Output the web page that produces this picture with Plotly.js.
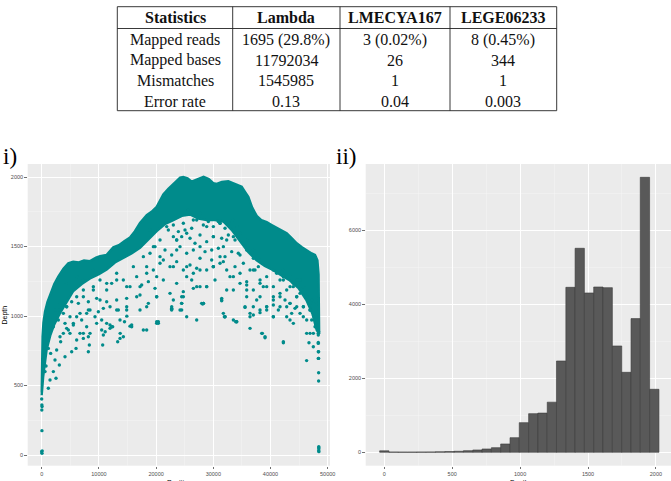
<!DOCTYPE html>
<html>
<head>
<meta charset="utf-8">
<script src="https://cdn.plot.ly/plotly-3.0.1.min.js"></script>
<style>
  html, body { margin: 0; padding: 0; background: #ffffff; }
  #chart { width: 671px; height: 481px; }
</style>
</head>
<body>
<div id="chart"></div>
<script>
// ---- Mapping statistics table ----
const tableHeader = ['Statistics', 'Lambda', 'LMECYA167', 'LEGE06233'];
const rowLabels   = ['Mapped reads', 'Mapped bases', 'Mismatches', 'Error rate'];
const lambdaCol   = ['1695 (29.8%)', '11792034', '1545985', '0.13'];
const lmecyaCol   = ['3 (0.02%)', '26', '1', '0.04'];
const legeCol     = ['8 (0.45%)', '344', '1', '0.003'];

// ---- i) per-position depth along the lambda genome ----
// Upper edge of the overplotted coverage band (position, depth)
const bandTopPos = [0, 50, 150, 300, 577, 1000, 1573, 2200, 2902, 3800, 4650, 5500, 6500, 7400, 8444, 9500, 10200, 11364, 12517, 13500, 14500, 15437, 16300, 17185, 18357, 19200, 20105, 20700, 21259, 22136, 23500, 24200, 24755, 25500, 26224, 27300, 28300, 29200, 30000, 30600, 31500, 32623, 33900, 34965, 35600, 36119, 36800, 37587, 38400, 39335, 40200, 41084, 42000, 42832, 43700, 44580, 45500, 46329, 47200, 47780, 48200, 48400, 48480, 48502];
const bandTopDepth = [450, 700, 850, 950, 1030, 1100, 1163, 1230, 1283, 1340, 1379, 1390, 1385, 1400, 1395, 1420, 1430, 1440, 1494, 1510, 1540, 1565, 1610, 1670, 1725, 1750, 1785, 1830, 1875, 1915, 1965, 1995, 2000, 1990, 1966, 1985, 2002, 1985, 1955, 1950, 1965, 1970, 1950, 1930, 1890, 1858, 1780, 1720, 1690, 1675, 1655, 1635, 1615, 1595, 1560, 1523, 1495, 1470, 1450, 1440, 1400, 1300, 1100, 920];
// Lower edge of the solid part of the band
const bandLowPos = [0, 100, 250, 500, 868, 1500, 2200, 3200, 4300, 5530, 7000, 8445, 10000, 11360, 12800, 14274, 15700, 17188, 18600, 20100, 21500, 23010, 24500, 25924, 27400, 28838, 30300, 31752, 33200, 34666, 36100, 37580, 39000, 40495, 42000, 43409, 44900, 46323, 47300, 48071, 48400, 48502];
const bandLowDepth = [430, 480, 560, 660, 760, 860, 940, 1020, 1100, 1180, 1230, 1270, 1300, 1335, 1385, 1420, 1450, 1490, 1550, 1610, 1660, 1690, 1720, 1730, 1700, 1690, 1690, 1680, 1620, 1540, 1460, 1400, 1360, 1330, 1290, 1255, 1200, 1110, 1020, 900, 880, 880];

// Sparse positions lying well below the band
const outPos = [0, 30, 60, 20, 40, 0, 50, 80, 48440, 48450, 48430, 48460, 48445,
  48415, 48415, 46317, 48415, 48415, 48357, 46725, 48357, 48415, 42249, 39044, 38578, 36422, 33916, 31935,
  1160, 1451, 2500, 2040, 583, 758, 3083, 4074, 2326, 1568, 1160, 2617, 5240, 5997, 8154, 10660, 8329, 13283, 13691, 15439, 15730, 20101, 20393, 18353, 6114, 3316, 3783, 4366, 5531, 4948, 7279, 8154, 8445, 9611, 10486, 11943, 11943, 12409, 11098, 13720, 14885, 14477, 9903, 6697, 8154, 10777, 13400, 18644, 22723, 24472, 28143, 31464, 35544, 37000, 38166, 40497, 43702, 44285, 46325, 47199,
  25630, 28263, 33508, 20105, 24476, 24185, 22728, 20105, 16608, 14860, 13112, 11946, 10198, 9033, 7284, 6119, 4371, 3205, 2040, 27097, 28846, 26514, 25348, 23017, 21268, 23600, 27680, 30012, 31178, 31760, 30012, 20105, 18357, 17192, 17774, 16025, 14860, 13112, 11364, 9033, 7284, 6119, 4371, 34674, 35840, 37005, 38171, 39336, 38171, 40502, 41667, 42250, 43416, 44582, 45164, 46329, 45747, 47496, 46913, 42833, 39336, 36423, 33508, 31760, 27097, 25348, 37005, 35840, 33508, 32343, 25348, 23017, 20686, 19522, 18940, 21851, 28846, 31178, 33508, 26514, 27680,
  32051, 34091, 38462, 39044, 42245, 46911, 47488, 48357, 48357, 48357, 48357, 28252, 31469, 32920, 35839, 36993, 39336, 40490, 43409, 44580, 45734, 24755, 24476, 22727, 26224, 27675, 30000, 31748, 34370, 29720, 26800, 23601, 25052, 30874, 32920, 36119, 38164, 40490, 42245, 43986, 45734, 46911, 37290, 38741, 41661, 43409];
const outDepth = [403, 360, 348, 324, 175, 24, 12, 30, 60, 44, 30, 24, 52,
  592, 532, 679, 695, 743, 810, 808, 863, 887, 808, 844, 875, 911, 959, 995,
  480, 540, 552, 600, 600, 640, 647, 707, 683, 731, 767, 755, 743, 767, 743, 791, 791, 815, 839, 927, 935, 947, 959, 899, 827, 815, 875, 911, 935, 875, 875, 851, 875, 947, 971, 935, 911, 923, 887, 875, 999, 959, 1031, 1019, 1043, 1055, 1043, 1091, 1048, 1043, 1086, 1110, 1062, 1007, 1024, 1079, 1019, 1055, 875, 971,
  1763, 1091, 1187, 1139, 1139, 1043, 1055, 959, 1139, 1067, 1043, 1067, 1115, 1187, 1187, 1139, 1067, 1043, 983, 1211, 1211, 1307, 1355, 1355, 1403, 1475, 1499, 1355, 1427, 1499, 1571, 1283, 1307, 1211, 1427, 1355, 1211, 1259, 1235, 1331, 1259, 1283, 1235, 1307, 1187, 1331, 1259, 1211, 1139, 1115, 1139, 1259, 1211, 1139, 1259, 1139, 1067, 1091, 1043, 1067, 1043, 1019, 971, 1019, 971, 995, 1475, 1547, 1571, 1547, 1595, 1571, 1547, 1499, 1619, 1643, 1643, 1667, 1691, 1691, 1739,
  995, 959, 875, 851, 815, 875, 779, 875, 803, 743, 695, 1091, 1127, 1283, 1223, 1067, 1067, 995, 971, 1067, 995, 1175, 1091, 1067, 1259, 1331, 1355, 1391, 1451, 1475, 1523, 1547, 1619, 1679, 1643, 1499, 1403, 1331, 1283, 1211, 1163, 1091, 1331, 1211, 1163, 1091];

// Denser scatter just under the band's lower edge
const speckPos = [22141, 23015, 23889, 24763, 25638, 26220, 27095, 28260, 29134, 30009, 31174, 32049, 33214, 34088, 23598, 24472, 25929, 27677, 28843, 30009, 31466, 32631, 33797, 34671,
  18935, 19810, 20684, 21558, 22724, 24181, 25346, 26512, 27677, 28552, 29717, 30883, 32049, 33214, 34671, 35837, 37002, 18353, 19518, 20684, 22432, 23598, 24763, 25929, 27095, 28843, 30009, 31174, 32340, 33797, 35254, 36419, 37876,
  9028, 10193, 11359, 12233, 13107, 14273, 15439, 16604, 17478, 18644, 19810, 21267, 22432, 23598, 25346, 26512, 27677, 28843, 30300, 32340, 33505, 34671, 35837, 37002, 38168, 39333, 40499, 41665, 42830, 43996, 45161, 40499, 37585, 35837, 31466, 28260, 24763, 23015, 20101, 17187, 14856, 13107, 11359, 9611,
  2034, 2908, 3783, 4657, 5531, 6114, 6697, 7862, 8445, 9319, 10485, 11359, 12233, 13690, 14856, 15730, 17187, 18353, 20392, 22724, 24472, 27969, 32049, 34088, 35545, 36419, 38168, 39333, 40499, 41665, 42830, 43996, 45161, 46327, 46910, 47784, 47493, 3200, 7279, 10776, 14273, 17770,
  41082, 42247, 43413, 44579, 45744, 46618, 47201, 44579, 43413, 45744, 47493, 42539, 41373,
  2326, 3200, 4365, 5240, 6405, 7279, 8154, 2617, 4074, 4948, 6988, 7862];
const speckDepth = [1619, 1655, 1607, 1667, 1763, 1631, 1691, 1655, 1679, 1643, 1667, 1631, 1679, 1643, 1547, 1571, 1559, 1583, 1535, 1571, 1559, 1583, 1547, 1595,
  1451, 1499, 1427, 1475, 1439, 1499, 1451, 1475, 1415, 1463, 1403, 1487, 1427, 1463, 1439, 1475, 1415, 1355, 1331, 1379, 1355, 1391, 1331, 1367, 1343, 1331, 1355, 1379, 1331, 1355, 1379, 1331, 1355,
  1211, 1259, 1187, 1235, 1307, 1259, 1211, 1283, 1223, 1247, 1199, 1259, 1163, 1235, 1283, 1199, 1211, 1211, 1259, 1187, 1283, 1235, 1247, 1187, 1235, 1283, 1211, 1259, 1187, 1235, 1163, 1139, 1115, 1139, 1115, 1091, 1139, 1115, 1139, 1151, 1127, 1115, 1103, 1127,
  923, 971, 1019, 899, 947, 995, 875, 923, 1043, 995, 899, 947, 923, 971, 1043, 923, 1043, 1067, 947, 1043, 1091, 1091, 995, 959, 1067, 995, 1043, 1067, 995, 1067, 995, 947, 1019, 971, 1043, 923, 875, 851, 839, 863, 851, 899,
  1307, 1331, 1283, 1259, 1211, 1163, 1115, 1139, 1091, 1067, 1019, 1115, 1043,
  1043, 1091, 1067, 1103, 1091, 1139, 1103, 995, 947, 995, 971, 1019];

// ---- ii) histogram of depth (30 bins) ----
const binCenters = [0, 69, 137, 206, 274, 343, 411, 480, 548, 617, 686, 754, 823, 891, 960, 1028, 1097, 1165, 1234, 1302, 1371, 1439, 1508, 1576, 1645, 1714, 1782, 1851, 1919, 1988];
const binCounts  = [40, 8, 6, 6, 8, 10, 14, 20, 28, 45, 63, 90, 126, 225, 396, 802, 1045, 1060, 1355, 2468, 4459, 5514, 4306, 4468, 4450, 2874, 2162, 3613, 7432, 1703];
const binWidth = 68.55;

const W = 671, H = 481;
const TEAL = '#008B8B';
const px = x => x / W;
const py = y => 1 - y / H;

// Band polygon: top edge left->right, then lower edge right->left
const bandX = bandTopPos.concat(bandLowPos.slice().reverse());
const bandY = bandTopDepth.concat(bandLowDepth.slice().reverse());

const traces = [
  {
    type: 'scatter', mode: 'lines', x: bandX, y: bandY,
    fill: 'toself', fillcolor: TEAL, line: {color: TEAL, width: 2.4},
    xaxis: 'x', yaxis: 'y', hoverinfo: 'skip'
  },
  {
    type: 'scatter', mode: 'markers', x: speckPos, y: speckDepth,
    marker: {color: TEAL, size: 3.4, line: {width: 0}},
    xaxis: 'x', yaxis: 'y'
  },
  {
    type: 'scatter', mode: 'markers', x: outPos, y: outDepth,
    marker: {color: TEAL, size: 3.4, line: {width: 0}},
    xaxis: 'x', yaxis: 'y'
  },
  {
    type: 'bar', x: binCenters, y: binCounts, width: binWidth,
    marker: {color: '#595959', line: {color: '#3a3a3a', width: 0.6}},
    xaxis: 'x2', yaxis: 'y2'
  }
];

const tickFont = {family: 'Liberation Sans, Arial, sans-serif', size: 5.5, color: '#4D4D4D'};
const axisBase = {
  ticks: 'outside', ticklen: 2.5, tickwidth: 0.7, tickcolor: '#333333',
  tickfont: tickFont, gridcolor: '#FFFFFF', gridwidth: 1,
  zeroline: false, showline: false, fixedrange: true
};
const panelTop = 164, panelBottom = 465.7;

const layout = {
  width: W, height: H,
  margin: {l: 0, r: 0, t: 0, b: 0},
  paper_bgcolor: '#FFFFFF', plot_bgcolor: '#EBEBEB',
  showlegend: false, bargap: 0,
  xaxis: Object.assign({}, axisBase, {
    domain: [px(27.7), px(330)], range: [-2448, 50402], anchor: 'y',
    tickvals: [0, 10000, 20000, 30000, 40000, 50000],
    ticktext: ['0', '10000', '20000', '30000', '40000', '50000'],
    minor: {tickvals: [5000, 15000, 25000, 35000, 45000], showgrid: true, gridcolor: '#F6F6F6', gridwidth: 0.5}
  }),
  yaxis: Object.assign({}, axisBase, {
    domain: [py(panelBottom), py(panelTop)], range: [-77, 2093.5], anchor: 'x',
    tickvals: [0, 500, 1000, 1500, 2000],
    ticktext: ['0', '500', '1000', '1500', '2000'],
    minor: {tickvals: [250, 750, 1250, 1750], showgrid: true, gridcolor: '#F6F6F6', gridwidth: 0.5}
  }),
  xaxis2: Object.assign({}, axisBase, {
    domain: [px(365.7), 1], range: [-137, 2111], anchor: 'y2',
    tickvals: [0, 500, 1000, 1500, 2000],
    ticktext: ['0', '500', '1000', '1500', '2000'],
    minor: {tickvals: [250, 750, 1250, 1750], showgrid: true, gridcolor: '#F6F6F6', gridwidth: 0.5}
  }),
  yaxis2: Object.assign({}, axisBase, {
    domain: [py(panelBottom), py(panelTop)], range: [-362, 7792], anchor: 'x2',
    tickvals: [0, 2000, 4000, 6000],
    ticktext: ['0', '2000', '4000', '6000'],
    minor: {tickvals: [1000, 3000, 5000, 7000], showgrid: true, gridcolor: '#F6F6F6', gridwidth: 0.5}
  }),
  shapes: [],
  annotations: []
};

// ---- Table drawn with shapes and annotations ----
const colEdges = [117.3, 232.7, 340, 450, 556.7];
const hLines = [6.7, 28.5, 110.7];
const rowCenters = [17.5, 39.5, 60.3, 81, 101.7];
const lineStyle = {color: '#222222', width: 0.9};
hLines.forEach(y => layout.shapes.push({
  type: 'line', xref: 'paper', yref: 'paper',
  x0: px(colEdges[0]), x1: px(colEdges[colEdges.length - 1]), y0: py(y), y1: py(y), line: lineStyle
}));
colEdges.forEach(x => layout.shapes.push({
  type: 'line', xref: 'paper', yref: 'paper',
  x0: px(x), x1: px(x), y0: py(hLines[0]), y1: py(hLines[hLines.length - 1]), line: lineStyle
}));
const serif = 'Liberation Serif, Times New Roman, serif';
function cell(text, col, row, bold) {
  layout.annotations.push({
    xref: 'paper', yref: 'paper', showarrow: false,
    x: px((colEdges[col] + colEdges[col + 1]) / 2), y: py(rowCenters[row]),
    xanchor: 'center', yanchor: 'middle',
    text: bold ? '<b>' + text + '</b>' : text,
    font: {family: serif, size: 16, color: '#111111'}
  });
}
tableHeader.forEach((t, c) => cell(t, c, 0, true));
rowLabels.forEach((t, r) => {
  cell(t, 0, r + 1, false);
  cell(lambdaCol[r], 1, r + 1, false);
  cell(lmecyaCol[r], 2, r + 1, false);
  cell(legeCol[r], 3, r + 1, false);
});

// ---- Panel tags and axis titles ----
function label(text, x, y, opts) {
  layout.annotations.push(Object.assign({
    xref: 'paper', yref: 'paper', showarrow: false, x: px(x), y: py(y), text: text
  }, opts));
}
label('i)', 1, 156, {xanchor: 'left', yanchor: 'middle', font: {family: serif, size: 23, color: '#000000'}});
label('ii)', 334, 156, {xanchor: 'left', yanchor: 'middle', font: {family: serif, size: 23, color: '#000000'}});
const titleFont = {family: 'Liberation Sans, Arial, sans-serif', size: 7, color: '#000000'};
label('Depth', 4.5, 315, {xanchor: 'center', yanchor: 'middle', textangle: -90, font: titleFont});
label('Position', 179, 477, {xanchor: 'center', yanchor: 'top', font: titleFont});
label('Depth', 519, 477, {xanchor: 'center', yanchor: 'top', font: titleFont});

Plotly.newPlot('chart', traces, layout, {displayModeBar: false, staticPlot: true});
</script>
</body>
</html>
